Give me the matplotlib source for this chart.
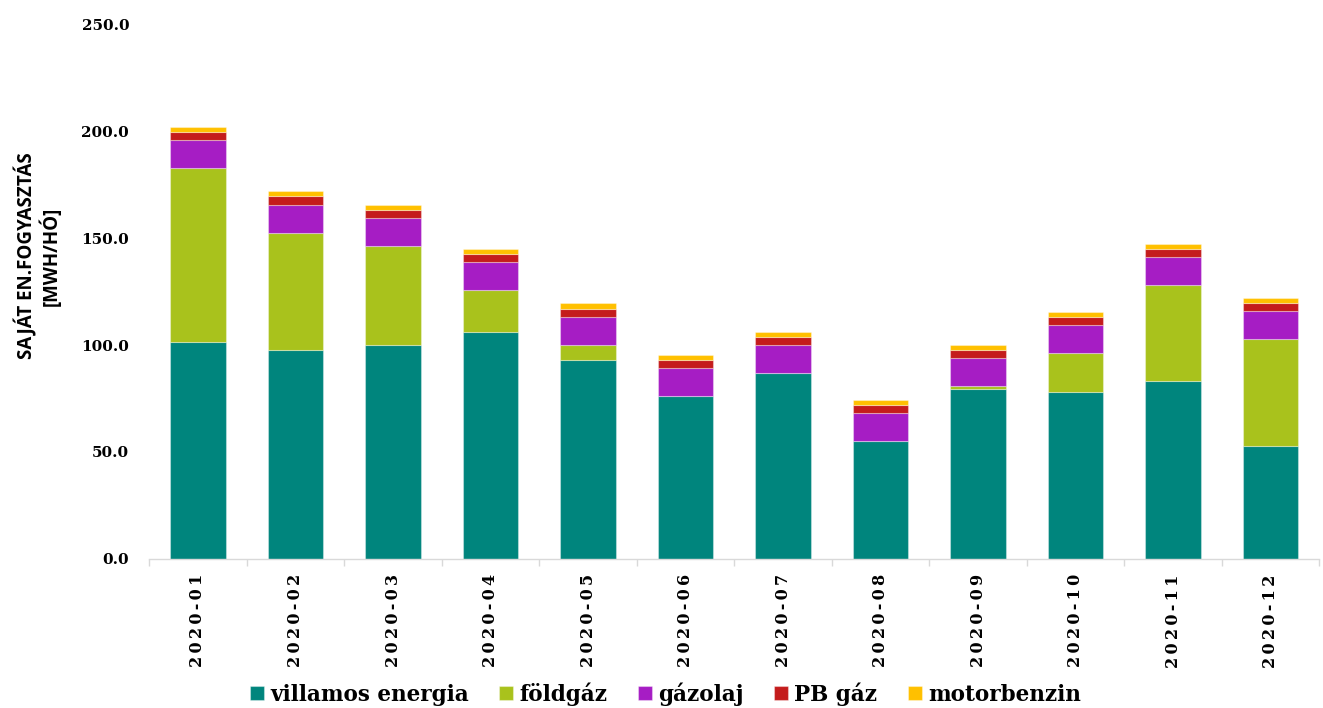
import matplotlib
matplotlib.use("Agg")
import matplotlib.pyplot as plt
import numpy as np

months = ["2020-01", "2020-02", "2020-03", "2020-04", "2020-05", "2020-06",
          "2020-07", "2020-08", "2020-09", "2020-10", "2020-11", "2020-12"]
villamos_energia = [101.3, 97.8, 100.0, 106.2, 93.1, 76.0, 86.8, 55.0, 79.6, 78.2, 83.3, 52.7]
foldgaz = [81.3, 54.5, 46.3, 19.5, 6.9, 0.0, 0.0, 0.0, 1.2, 17.9, 44.7, 49.9]
gazolaj = [13.0, 13.3, 13.0, 12.9, 13.2, 13.1, 13.0, 13.2, 13.1, 13.1, 13.1, 13.1]
pb_gaz = [3.8, 3.9, 3.9, 4.1, 3.8, 3.7, 3.9, 3.9, 3.9, 3.9, 3.8, 3.9]
motorbenzin = [2.6, 2.3, 2.2, 2.2, 2.5, 2.4, 2.4, 2.2, 2.2, 2.3, 2.4, 2.4]

series_names = ["villamos energia", "földgáz", "gázolaj", "PB gáz", "motorbenzin"]
series = [villamos_energia, foldgaz, gazolaj, pb_gaz, motorbenzin]
colors = ["#00857D", "#A9C21C", "#A61DC4", "#C41C1C", "#FFC000"]
yticks = [0, 50, 100, 150, 200, 250]
ylabel = "SAJÁT EN.FOGYASZTÁS\n[MWH/HÓ]"

serif = ["DejaVu Serif"]

fig = plt.figure(figsize=(13.23, 7.08), dpi=100)
ax = fig.add_axes([0.1128, 0.2105, 0.8845, 0.7555])

x = np.arange(len(months))
bottom = np.zeros(len(months))
for name, vals, c in zip(series_names, series, colors):
    v = np.array(vals)
    ax.bar(x, v, 0.57, bottom=bottom, color=c, label=name,
           edgecolor=(1, 1, 1, 0.35), linewidth=0.8)
    bottom += v

ax.set_xlim(-0.5, len(months) - 0.5)
ax.set_ylim(0, 250)
ax.set_yticks(yticks)
ax.set_yticklabels([f"{t:.1f}" for t in yticks],
                   fontfamily=serif, fontweight="bold", fontsize=11)
ax.tick_params(axis="y", length=0, pad=14.4)

spaced = ["\u2009".join(list(m)) for m in months]
ax.set_xticks(x)
ax.set_xticklabels(spaced, rotation=90, fontfamily=serif,
                   fontweight="bold", fontsize=11.5)
ax.tick_params(axis="x", which="major", length=0, pad=11)
ax.set_xticks(np.arange(-0.5, len(months) + 0.5, 1), minor=True)
ax.tick_params(axis="x", which="minor", length=5, color="#D9D9D9", width=1)

for s in ["left", "right", "top"]:
    ax.spines[s].set_visible(False)
ax.spines["bottom"].set_color("#D9D9D9")
ax.spines["bottom"].set_linewidth(1)

fig.text(38 / 1323, 1 - 256 / 708, ylabel, rotation=90, ha="center", va="center",
         fontfamily="Open Sans", fontweight="bold", fontsize=13.5, linespacing=1.1)

leg = fig.legend(loc="center", bbox_to_anchor=(0.503, 0.02), ncol=5, frameon=False,
                 prop={"family": serif, "weight": "bold", "size": 15.5},
                 handlelength=0.65, handleheight=0.65, handletextpad=0.3, columnspacing=1.4)

fig.savefig("out.png", dpi=100)
